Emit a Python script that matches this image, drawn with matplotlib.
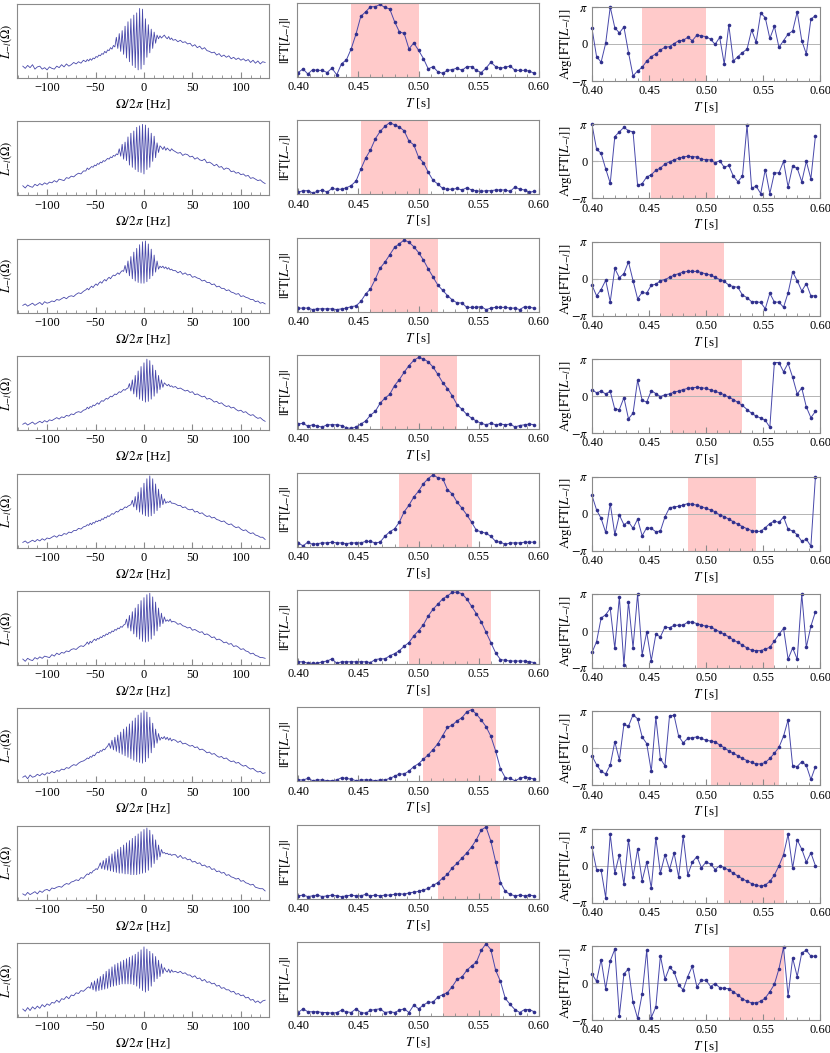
import numpy as np
import matplotlib
matplotlib.use('Agg')
import matplotlib.pyplot as plt
from matplotlib.ticker import MultipleLocator

plt.rcParams['font.family'] = ['Liberation Serif', 'DejaVu Serif']
plt.rcParams['mathtext.fontset'] = 'stix'

# time axis of the windowed transforms (s)
T = np.round(0.400 + 0.004 * np.arange(50), 3)
# frequency samples of the spectra (Hz): coarse / fine / coarse
omega = np.concatenate([np.arange(-125, -62.4, 2.5), np.arange(-60, 30.1, 1.5), np.arange(32.5, 125.1, 2.5)])

# spectra L_-l(Omega), arbitrary units (0..100)
spec_1 = [16, 13, 17, 14, 18, 12, 15, 16, 12, 14, 11, 15, 13, 12, 16, 14, 18, 15, 19, 16, 18, 21, 19, 22, 20, 24,
          22, 25, 23, 26, 24, 27, 26, 29, 28, 31, 30, 33, 32, 36, 34, 38, 37, 41, 39, 44, 42,
          55, 40, 60, 36, 64, 32, 70, 27, 76, 22, 80, 17, 85, 14, 88, 11, 94, 12, 93, 18, 80, 28, 72, 34, 66, 40,
          62, 47, 58, 53, 57, 54, 56, 58, 55, 53, 56, 52, 54, 51,
          52, 49, 51, 48, 49, 46, 47, 43, 45, 41, 43, 39, 41, 37, 36, 34, 35, 31, 33, 29, 31, 28, 30, 26, 28, 25,
          27, 24, 26, 23, 25, 21, 24, 20, 23, 19, 22, 21]
spec_2 = [13, 10, 14, 12, 11, 15, 13, 16, 14, 17, 15, 18, 17, 20, 18, 22, 21, 20, 24, 23, 26, 25, 28, 30, 29, 33,
          33, 37, 35, 37, 39, 38, 41, 40, 43, 42, 45, 44, 47, 46, 48, 50, 49, 52, 51, 54, 53, 56, 55,
          63, 53, 69, 49, 72, 47, 79, 41, 84, 38, 87, 35, 92, 32, 94, 31, 96, 29, 95, 35, 91, 38, 84, 46, 80, 51,
          71, 58, 67, 65, 62, 66, 61, 64, 62, 60, 63, 61,
          59, 57, 58, 54, 56, 55, 52, 53, 49, 51, 48, 47, 49, 44, 45, 43, 40, 42, 38, 39, 35, 37, 36, 32, 33, 30,
          31, 28, 29, 26, 27, 23, 24, 22, 20, 21, 18, 16]
spec_3 = [10, 12, 9, 11, 13, 10, 12, 14, 11, 15, 13, 14, 16, 15, 18, 17, 19, 21, 19, 22, 23, 22, 25, 27, 26, 29,
          31, 33, 31, 34, 36, 34, 37, 39, 37, 40, 42, 40, 43, 45, 43, 46, 48, 46, 49, 51, 50, 52, 54, 52, 55, 57, 56,
          64, 54, 70, 50, 76, 46, 82, 43, 87, 41, 92, 40, 96, 40, 97, 42, 93, 46, 86, 50, 78, 55, 70, 59,
          63, 61, 63, 60, 62, 59, 61, 58, 59, 57,
          57, 54, 56, 52, 54, 51, 52, 48, 49, 47, 46, 43, 44, 41, 41, 38, 39, 35, 36, 33, 33, 30, 31, 28, 27, 25,
          26, 22, 23, 21, 20, 18, 18, 15, 16, 13, 14, 12]
spec_4 = [8, 10, 7, 9, 11, 8, 10, 12, 10, 13, 11, 14, 13, 15, 17, 15, 18, 17, 20, 19, 22, 21, 24, 25, 24, 27,
          28, 31, 29, 32, 31, 34, 33, 35, 37, 35, 38, 40, 39, 41, 43, 42, 44, 46, 45, 47, 49, 48, 50, 52, 51, 53,
          55, 54, 56, 57,
          63, 53, 68, 49, 74, 45, 80, 42, 86, 40, 91, 38, 96, 39, 94, 42, 88, 46, 81, 50, 74, 55, 68, 58, 64,
          62, 60, 62, 59, 60, 58,
          59, 56, 57, 55, 53, 54, 51, 52, 48, 49, 47, 45, 46, 42, 43, 41, 38, 39, 36, 37, 34, 32, 33, 30, 31, 28,
          26, 27, 24, 25, 22, 20, 21, 18, 16, 17, 14, 12]
spec_5 = [7, 9, 6, 8, 10, 8, 11, 9, 12, 10, 13, 12, 14, 16, 14, 17, 16, 19, 18, 21, 20, 23, 23, 26, 25, 28,
          29, 31, 30, 33, 31, 34, 33, 36, 35, 37, 36, 39, 38, 41, 40, 43, 42, 44, 46, 45, 47, 49, 48, 50, 52, 51,
          53, 55, 54, 56, 57, 58,
          64, 55, 69, 51, 75, 48, 81, 45, 87, 43, 93, 42, 97, 43, 93, 46, 86, 50, 79, 54, 72, 58, 66, 60,
          62, 61, 63, 60, 60,
          59, 57, 57, 54, 55, 52, 51, 52, 48, 49, 46, 47, 44, 42, 43, 40, 41, 38, 37, 35, 36, 33, 31, 32, 29, 27,
          28, 25, 23, 24, 21, 19, 20, 17, 16, 14, 14, 11]
spec_6 = [8, 5, 9, 7, 6, 10, 8, 11, 9, 12, 11, 10, 14, 12, 16, 14, 17, 16, 19, 18, 21, 22, 21, 24, 26, 25,
          28, 31, 28, 32, 30, 33, 35, 33, 36, 35, 38, 37, 40, 39, 42, 41, 44, 43, 46, 45, 48, 47, 50, 49, 52, 51,
          54, 55,
          62, 50, 67, 46, 72, 42, 77, 38, 82, 35, 87, 32, 91, 31, 95, 32, 97, 35, 92, 40, 85, 46, 77, 52, 70, 56,
          65, 59,
          61, 59, 62, 58, 59,
          58, 55, 56, 53, 52, 50, 51, 47, 48, 46, 44, 45, 41, 42, 40, 37, 38, 34, 35, 33, 30, 31, 28, 29, 25, 26,
          24, 21, 22, 19, 18, 15, 16, 13, 12, 10, 10, 9]
spec_7 = [7, 9, 5, 10, 7, 8, 11, 9, 12, 10, 13, 12, 15, 13, 16, 15, 18, 17, 20, 19, 22, 24, 23, 26, 28, 29,
          31, 33, 32, 35, 34, 37, 36, 39, 41, 40, 43, 42, 45, 44, 47, 49,
          53, 46, 57, 44, 61, 42, 64, 40, 68, 38, 72, 36, 75, 34, 79, 32, 83, 30, 87, 28, 91, 27, 94, 26, 97, 28,
          95, 33, 88, 40, 80, 47, 72, 53, 66, 57,
          61, 59, 62, 58, 61, 57, 60, 56, 58,
          57, 54, 56, 52, 53, 51, 49, 50, 47, 48, 44, 45, 43, 40, 41, 38, 39, 36, 34, 35, 32, 33, 30, 28, 29, 26,
          27, 24, 22, 23, 20, 18, 19, 16, 14, 15, 12, 13]
spec_8 = [8, 6, 10, 7, 9, 11, 8, 12, 10, 13, 14, 12, 16, 15, 17, 18, 17, 20, 22, 21, 24, 25, 27, 26, 30, 29,
          33, 35, 34, 37, 36, 39, 40, 42, 41, 45,
          50, 42, 53, 41, 56, 40, 59, 39, 62, 38, 65, 37, 68, 36, 71, 36, 74, 35, 77, 35, 80, 34, 83, 34, 86, 34,
          89, 35, 92, 36, 95, 37, 97, 40, 94, 44, 88, 49, 81, 54, 74, 58, 68,
          63, 64, 62, 63, 61, 62, 60, 61,
          61, 57, 60, 56, 57, 54, 55, 51, 52, 49, 50, 46, 47, 44, 45, 41, 42, 38, 39, 36, 37, 33, 34, 31, 30, 28,
          29, 25, 26, 23, 22, 20, 21, 17, 16, 15, 15, 12]
spec_9 = [11, 8, 13, 9, 14, 11, 15, 12, 17, 14, 18, 16, 20, 19, 23, 20, 25, 24, 28, 25, 30, 29, 33, 32, 36, 35,
          38, 40, 41, 39,
          47, 37, 49, 35, 52, 36, 55, 37, 58, 38, 62, 39, 65, 41, 68, 42, 71, 43, 73, 44, 75, 45, 77, 45, 79, 45,
          81, 45, 83, 44, 85, 42, 88, 39, 91, 36, 95, 34, 92, 36, 89, 42, 86, 48, 82, 52, 77, 55, 72, 59, 67,
          63, 61, 65, 60, 64, 61,
          62, 60, 62, 59, 60, 57, 57, 54, 56, 52, 53, 49, 51, 47, 48, 45, 46, 42, 43, 39, 40, 37, 37, 34, 35, 31,
          32, 29, 30, 26, 27, 23, 24, 20, 22, 19, 22, 23]

# |FT[L_-l]| (relative)
mag_1 = [0.06, 0.11, 0.04, 0.10, 0.09, 0.09, 0.06, 0.12, 0.03, 0.18, 0.23, 0.38, 0.58, 0.82, 0.88, 0.95, 0.95, 0.98,
         0.94, 0.92, 0.75, 0.61, 0.59, 0.38, 0.46, 0.36, 0.25, 0.11, 0.14, 0.07, 0.05, 0.09, 0.10, 0.12, 0.09, 0.14,
         0.14, 0.09, 0.06, 0.12, 0.20, 0.14, 0.12, 0.13, 0.15, 0.09, 0.09, 0.09, 0.08, 0.05]
mag_2 = [0.03, 0.05, 0.05, 0.02, 0.04, 0.06, 0.03, 0.08, 0.07, 0.07, 0.09, 0.12, 0.18, 0.34, 0.49, 0.60, 0.75, 0.85,
         0.92, 0.97, 0.94, 0.91, 0.86, 0.72, 0.67, 0.50, 0.43, 0.30, 0.19, 0.14, 0.08, 0.07, 0.07, 0.08, 0.06, 0.09,
         0.06, 0.05, 0.04, 0.05, 0.05, 0.06, 0.06, 0.06, 0.04, 0.10, 0.07, 0.06, 0.03, 0.04]
mag_3 = [0.05, 0.05, 0.05, 0.03, 0.04, 0.04, 0.04, 0.04, 0.03, 0.04, 0.05, 0.07, 0.08, 0.14, 0.24, 0.31, 0.44, 0.59,
         0.67, 0.77, 0.87, 0.92, 0.97, 0.94, 0.88, 0.80, 0.70, 0.58, 0.47, 0.36, 0.29, 0.22, 0.16, 0.12, 0.12, 0.06,
         0.06, 0.06, 0.07, 0.03, 0.05, 0.06, 0.06, 0.06, 0.05, 0.05, 0.03, 0.07, 0.06, 0.05]
mag_4 = [0.07, 0.08, 0.04, 0.06, 0.04, 0.03, 0.06, 0.06, 0.06, 0.05, 0.02, 0.01, 0.03, 0.07, 0.11, 0.19, 0.24, 0.35,
         0.42, 0.47, 0.59, 0.67, 0.77, 0.86, 0.93, 0.97, 0.95, 0.91, 0.84, 0.74, 0.63, 0.55, 0.45, 0.33, 0.27, 0.20,
         0.15, 0.11, 0.08, 0.06, 0.08, 0.06, 0.07, 0.06, 0.07, 0.03, 0.05, 0.06, 0.07, 0.06]
mag_5 = [0.05, 0.01, 0.06, 0.03, 0.04, 0.05, 0.05, 0.06, 0.05, 0.05, 0.04, 0.05, 0.05, 0.05, 0.07, 0.07, 0.05, 0.06,
         0.14, 0.20, 0.24, 0.33, 0.47, 0.56, 0.67, 0.75, 0.85, 0.92, 0.97, 0.93, 0.92, 0.77, 0.71, 0.60, 0.52, 0.43,
         0.33, 0.22, 0.20, 0.18, 0.14, 0.07, 0.06, 0.03, 0.05, 0.05, 0.05, 0.06, 0.06, 0.06]
mag_6 = [0.03, 0.03, 0.01, 0.01, 0.01, 0.03, 0.04, 0.07, 0.01, 0.03, 0.03, 0.03, 0.03, 0.03, 0.03, 0.02, 0.06, 0.07,
         0.07, 0.11, 0.14, 0.18, 0.24, 0.29, 0.38, 0.45, 0.53, 0.65, 0.74, 0.81, 0.88, 0.92, 0.97, 0.97, 0.95, 0.88,
         0.78, 0.68, 0.57, 0.43, 0.29, 0.15, 0.06, 0.05, 0.04, 0.04, 0.04, 0.04, 0.03, 0.02]
mag_7 = [0.02, 0.02, 0.04, 0.01, 0.02, 0.02, 0.01, 0.01, 0.02, 0.05, 0.04, 0.03, 0.01, 0.02, 0.02, 0.02, 0.01, 0.02,
         0.02, 0.04, 0.07, 0.10, 0.10, 0.14, 0.20, 0.24, 0.30, 0.36, 0.43, 0.51, 0.62, 0.73, 0.76, 0.82, 0.86, 0.94,
         0.97, 0.91, 0.83, 0.74, 0.61, 0.41, 0.17, 0.05, 0.04, 0.01, 0.04, 0.06, 0.05, 0.03]
mag_8 = [0.04, 0.05, 0.03, 0.04, 0.05, 0.03, 0.04, 0.05, 0.04, 0.03, 0.04, 0.05, 0.04, 0.04, 0.06, 0.04, 0.05, 0.04,
         0.05, 0.05, 0.06, 0.07, 0.06, 0.08, 0.09, 0.10, 0.12, 0.14, 0.18, 0.22, 0.28, 0.33, 0.42, 0.48, 0.55, 0.62,
         0.70, 0.80, 0.93, 0.97, 0.78, 0.50, 0.22, 0.10, 0.06, 0.04, 0.05, 0.04, 0.05, 0.04]
mag_9 = [0.05, 0.10, 0.06, 0.06, 0.06, 0.05, 0.05, 0.04, 0.05, 0.08, 0.06, 0.05, 0.10, 0.05, 0.04, 0.08, 0.09, 0.10,
         0.05, 0.06, 0.05, 0.08, 0.10, 0.05, 0.15, 0.10, 0.15, 0.19, 0.19, 0.26, 0.29, 0.32, 0.40, 0.50, 0.53, 0.62,
         0.68, 0.73, 0.89, 0.98, 0.90, 0.62, 0.47, 0.24, 0.16, 0.09, 0.05, 0.09, 0.09, 0.06]

# Arg[FT[L_-l]] in units of pi
ph_1 = [0.42, -0.34, -0.49, 0.02, 1.0, 0.44, 0.30, 0.46, -0.23, -0.86, -0.73, -0.63, -0.46, -0.34, -0.27, -0.16,
        -0.09, -0.07, 0.01, 0.09, 0.10, 0.18, 0.09, 0.24, 0.22, 0.20, 0.13, -0.01, 0.18, -0.54, 0.51, -0.46, -0.34,
        -0.23, -0.14, 0.38, 0.05, 0.84, 0.71, 0.15, 0.48, -0.09, 0.09, 0.27, 0.35, 0.87, 0.09, -0.27, 0.67, 0.77]
ph_2 = [1.0, 0.33, 0.22, -0.20, -0.59, 0.67, 0.80, 0.92, 0.83, 0.80, -0.65, -0.60, -0.42, -0.36, -0.24, -0.18,
        -0.07, -0.01, 0.04, 0.09, 0.12, 0.14, 0.13, 0.12, 0.06, 0.05, 0.04, -0.04, 0.02, -0.16, -0.11, -0.40, -0.55,
        -0.40, 0.98, -0.72, -0.67, -0.87, -0.22, -0.87, -0.31, -0.31, 0.0, -0.69, -0.13, -0.18, -0.55, 0.0, -0.47,
        0.69]
ph_3 = [-0.17, -0.46, -0.29, -0.04, -0.62, 0.28, 0.03, 0.14, 0.46, -0.05, -0.54, -0.37, -0.39, -0.17, -0.15, -0.05,
        -0.02, 0.04, 0.10, 0.14, 0.18, 0.20, 0.20, 0.20, 0.17, 0.13, 0.10, 0.04, -0.02, -0.07, -0.17, -0.21, -0.23,
        -0.44, -0.51, -0.62, -0.62, -0.64, -0.81, -0.39, -0.63, -0.63, -0.77, -0.38, 0.19, -0.05, -0.33, -0.13,
        -0.46, -0.46]
ph_4 = [0.18, 0.09, 0.14, 0.06, 0.13, -0.35, -0.36, -0.04, -0.61, -0.46, 0.43, -0.11, -0.16, 0.15, 0.07, -0.01,
        0.04, 0.06, 0.11, 0.14, 0.18, 0.21, 0.23, 0.24, 0.23, 0.21, 0.17, 0.13, 0.09, 0.04, -0.03, -0.09, -0.17,
        -0.25, -0.36, -0.46, -0.54, -0.59, -0.65, -0.84, 0.91, 0.91, 0.66, 0.89, 0.51, 0.06, 0.22, -0.29, -0.58,
        -0.41]
ph_5 = [0.49, 0.10, -0.13, -0.51, 0.27, -0.56, -0.04, -0.30, -0.22, -0.40, -0.15, -0.60, -0.38, -0.40, -0.49, -0.47,
        -0.09, 0.16, 0.18, 0.20, 0.23, 0.27, 0.25, 0.23, 0.19, 0.14, 0.10, 0.05, -0.04, -0.08, -0.15, -0.22, -0.29,
        -0.35, -0.41, -0.46, -0.48, -0.48, -0.38, -0.27, -0.20, -0.24, -0.09, -0.42, -0.47, -0.57, -0.75, -0.69,
        -0.88, 1.0]
ph_6 = [-0.58, -0.29, 0.35, 0.44, 0.61, -0.47, 0.92, -0.92, 0.79, -0.45, 1.0, -0.64, -0.03, -0.80, -0.09, -0.16,
        0.11, 0.09, 0.15, 0.16, 0.16, 0.24, 0.24, 0.20, 0.16, 0.13, 0.12, 0.04, -0.02, -0.09, -0.16, -0.24, -0.31,
        -0.38, -0.46, -0.52, -0.53, -0.53, -0.49, -0.44, -0.27, -0.09, 0.07, -0.76, -0.46, -0.76, 1.0, -0.44, 0.13,
        0.52]
ph_7 = [-0.20, -0.44, -0.62, -0.69, -0.45, 0.18, -0.31, 0.65, 0.60, 0.91, 0.80, 0.31, 0.13, -0.62, 0.84, -0.28,
        -0.47, 0.88, 0.89, 0.33, 0.15, 0.27, 0.29, 0.31, 0.27, 0.22, 0.20, 0.18, 0.09, 0.02, -0.07, -0.13, -0.20,
        -0.27, -0.33, -0.38, -0.42, -0.42, -0.38, -0.27, -0.13, 0.03, 0.33, 0.77, -0.47, -0.49, -0.36, -0.46, -0.84,
        -0.49]
ph_8 = [0.50, -0.10, -0.12, -0.86, 0.85, -0.20, 0.30, -0.50, 0.70, -0.30, 0.45, -0.40, 0.10, -0.60, 0.75, -0.20,
        0.30, -0.10, 0.35, -0.30, 0.80, -0.25, 0.10, 0.25, -0.05, 0.10, 0.05, -0.10, 0.00, -0.05, -0.12, -0.20,
        -0.28, -0.35, -0.42, -0.48, -0.53, -0.55, -0.52, -0.42, -0.25, 0.00, 0.30, 0.85, -0.06, 0.70, 0.45, 0.10,
        0.35, 0.00]
ph_9 = [0.25, 0.05, 0.64, -0.15, 0.60, 0.92, -0.88, 0.25, 0.39, -0.52, -0.95, -0.29, 0.89, -0.93, -0.64, 0.74,
        0.11, 0.43, 0.31, -0.05, -0.18, 0.18, 0.46, -0.10, 0.08, 0.08, -0.09, -0.01, -0.12, -0.14, -0.15, -0.23,
        -0.32, -0.42, -0.49, -0.53, -0.53, -0.49, -0.40, -0.23, -0.03, 0.39, 0.97, -0.35, 0.68, 0.18, 0.82, 0.89,
        0.73, 0.73]

# selected time windows (s)
win_lo = [0.444, 0.452, 0.460, 0.468, 0.484, 0.492, 0.504, 0.516, 0.520]
win_hi = [0.500, 0.508, 0.516, 0.532, 0.544, 0.560, 0.564, 0.568, 0.568]

spectra = [spec_1, spec_2, spec_3, spec_4, spec_5, spec_6, spec_7, spec_8, spec_9]
mags = [mag_1, mag_2, mag_3, mag_4, mag_5, mag_6, mag_7, mag_8, mag_9]
phases = [ph_1, ph_2, ph_3, ph_4, ph_5, ph_6, ph_7, ph_8, ph_9]

W, H = 830, 1053
fig = plt.figure(figsize=(W / 100, H / 100), dpi=100)

line_c = '#4848aa'
dot_c = '#30308c'
frame_c = '#8a8a8a'
shade_c = '#ffcaca'
fs = 9


def box(x0, x1, top, h):
    return fig.add_axes([x0 / W, 1 - (top + h) / H, (x1 - x0) / W, h / H])


def style(ax):
    for s in ax.spines.values():
        s.set_color(frame_c)
        s.set_linewidth(0.8)
    ax.tick_params(which='both', direction='in', color=frame_c, labelsize=fs, pad=3)
    ax.tick_params(which='major', length=4)
    ax.tick_params(which='minor', length=2)


pitch = 117.4
for r in range(9):
    dy = pitch * r

    a = box(17, 269, 4 + dy, 74)
    a.plot(omega, spectra[r], color=line_c, lw=0.6)
    a.set_xlim(-131, 129)
    a.set_ylim(0, 100)
    a.set_xticks([-100, -50, 0, 50, 100])
    a.xaxis.set_minor_locator(MultipleLocator(10))
    a.set_yticks([])
    style(a)
    a.set_xlabel(r'$\Omega/2\pi$ [Hz]', fontsize=9.5, labelpad=2)
    a.set_ylabel(r'$L_{-l}(\Omega)$', fontsize=9)
    a.yaxis.set_label_coords(-0.01, 0.5)

    b = box(297, 539, 3 + dy, 74)
    b.axvspan(win_lo[r], win_hi[r], color=shade_c, lw=0)
    b.plot(T, mags[r], '-', color=line_c, lw=0.7)
    b.plot(T, mags[r], 'o', color=dot_c, ms=2.6, mew=0)
    b.set_xlim(0.399, 0.6)
    b.set_ylim(0, 1.0)
    b.set_xticks([0.40, 0.45, 0.50, 0.55, 0.60])
    b.set_xticklabels(['0.40', '0.45', '0.50', '0.55', '0.60'])
    b.xaxis.set_minor_locator(MultipleLocator(0.01))
    b.set_yticks([])
    style(b)
    b.set_xlabel(r'$T$ [s]', fontsize=9.5, labelpad=2)
    b.set_ylabel(r'$|\mathrm{FT}[L_{-l}]|$', fontsize=9.5)
    b.yaxis.set_label_coords(-0.016, 0.5)

    c = box(592, 820, 7 + dy, 74)
    c.axvspan(win_lo[r], win_hi[r], color=shade_c, lw=0)
    c.axhline(0, color='#b4b4b4', lw=0.7)
    c.plot(T, np.array(phases[r]) * np.pi, '-', color=line_c, lw=0.7)
    c.plot(T, np.array(phases[r]) * np.pi, 'o', color=dot_c, ms=2.6, mew=0, clip_on=False)
    c.set_xlim(0.4, 0.6)
    c.set_ylim(-np.pi, np.pi)
    c.set_xticks([0.40, 0.45, 0.50, 0.55, 0.60])
    c.set_xticklabels(['0.40', '0.45', '0.50', '0.55', '0.60'])
    c.xaxis.set_minor_locator(MultipleLocator(0.01))
    c.set_yticks([-np.pi, 0, np.pi])
    c.set_yticklabels([r'$-\pi$', '0', r'$\pi$'])
    style(c)
    c.set_xlabel(r'$T$ [s]', fontsize=9.5, labelpad=2)
    c.set_ylabel(r'$\mathrm{Arg}[\mathrm{FT}[L_{-l}]]$', fontsize=9.5)
    c.yaxis.set_label_coords(-0.08, 0.5)

fig.savefig('out.png', dpi=100)
